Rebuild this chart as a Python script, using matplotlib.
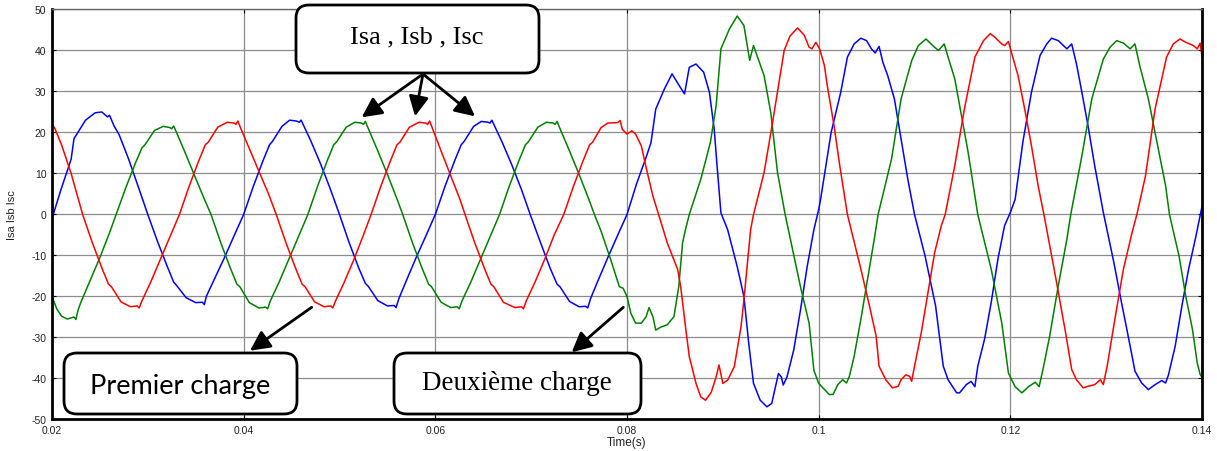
import matplotlib
matplotlib.use('Agg')
import matplotlib.pyplot as plt
from matplotlib.patches import FancyBboxPatch

plt.rcParams['axes.unicode_minus'] = False

# courants de ligne Isa (bleu), Isb (vert), Isc (rouge)
t_isa = [0.0200, 0.0210, 0.0220, 0.0223, 0.0227, 0.0235, 0.0245, 0.0252, 0.0258, 0.0260, 0.0265, 0.0270, 0.0280, 0.0290, 0.0300,
         0.0310, 0.0320, 0.0327, 0.0330, 0.0340, 0.0350, 0.0357, 0.0359, 0.0361, 0.0370, 0.0380, 0.0390, 0.0400,
         0.0410, 0.0420, 0.0427, 0.0430, 0.0440, 0.0448, 0.0455, 0.0458, 0.0460, 0.0463, 0.0470, 0.0480, 0.0490, 0.0500,
         0.0510, 0.0520, 0.0527, 0.0530, 0.0540, 0.0550, 0.0557, 0.0559, 0.0562, 0.0570, 0.0580, 0.0590, 0.0600,
         0.0610, 0.0620, 0.0627, 0.0630, 0.0640, 0.0648, 0.0655, 0.0657, 0.0659, 0.0662, 0.0670, 0.0680, 0.0690, 0.0699,
         0.0710, 0.0720, 0.0727, 0.0730, 0.0740, 0.0750, 0.0757, 0.0759, 0.0762, 0.0770, 0.0780, 0.0790, 0.0800,
         0.0810, 0.0820, 0.0825, 0.0830, 0.0839, 0.0847, 0.0853, 0.0860, 0.0865, 0.0872, 0.0880, 0.0886, 0.0891, 0.0894, 0.0898,
         0.0905, 0.0915, 0.0922, 0.0927, 0.0932, 0.0939, 0.0946, 0.0951, 0.0958, 0.0961, 0.0963, 0.0967, 0.0974, 0.0981, 0.0988, 0.0995, 0.1000,
         0.1002, 0.1013, 0.1023, 0.1030, 0.1037, 0.1044, 0.1050, 0.1055, 0.1059, 0.1063, 0.1067, 0.1072, 0.1079, 0.1086, 0.1093, 0.1100,
         0.1111, 0.1122, 0.1130, 0.1135, 0.1144, 0.1147, 0.1154, 0.1159, 0.1163, 0.1166, 0.1173, 0.1180, 0.1187, 0.1194, 0.1200,
         0.1205, 0.1213, 0.1222, 0.1231, 0.1238, 0.1243, 0.1250, 0.1259, 0.1264, 0.1269, 0.1274, 0.1281, 0.1288, 0.1297,
         0.1308, 0.1316, 0.1325, 0.1330, 0.1337, 0.1344, 0.1351, 0.1358, 0.1362, 0.1365, 0.1372, 0.1379, 0.1386, 0.1393, 0.1400]
isa = [-1.0, 6.5, 13.5, 18.5, 20.0, 23.0, 24.8, 25.0, 23.8, 24.2, 21.5, 19.5, 13.5, 6.8, 0.0,
       -6.5, -12.5, -16.5, -17.3, -20.3, -21.5, -21.4, -22.0, -20.0, -15.5, -10.5, -5.2, 0.0,
       6.8, 13.0, 17.0, 17.8, 21.5, 23.0, 22.8, 22.5, 23.0, 21.5, 18.0, 12.5, 6.5, 0.0,
       -6.8, -13.0, -16.8, -17.5, -21.0, -22.3, -22.2, -22.7, -20.5, -16.0, -10.5, -5.3, 0.0,
       6.8, 13.0, 17.0, 17.8, 21.5, 22.7, 22.5, 22.3, 23.0, 21.5, 17.5, 12.0, 6.0, 0.0,
       -7.0, -13.2, -17.0, -17.6, -21.2, -22.5, -22.4, -22.8, -20.5, -16.0, -10.5, -5.2, 0.0,
       7.5, 14.0, 17.5, 25.7, 30.6, 34.3, 32.0, 29.4, 35.9, 36.7, 34.7, 29.8, 20.8, 11.8, 0.4,
       -3.7, -12.7, -20.0, -31.4, -41.2, -45.3, -46.9, -46.1, -38.8, -39.6, -41.6, -39.6, -33.0, -23.3, -12.7, -3.7, 1.2,
       3.7, 20.0, 29.8, 38.4, 41.6, 43.0, 42.4, 40.4, 39.4, 41.0, 37.1, 33.9, 28.2, 18.4, 8.6, 0.0,
       -10.1, -22.3, -37.0, -40.3, -43.5, -43.5, -41.5, -40.7, -42.0, -37.0, -30.5, -21.5, -10.9, -2.7, 0.5,
       3.7, 17.6, 29.8, 38.8, 41.6, 43.0, 42.4, 40.4, 41.6, 36.7, 30.6, 21.7, 11.9, 0.5,
       -11.7, -21.5, -32.1, -38.2, -41.1, -42.7, -41.5, -40.5, -41.1, -39.1, -32.1, -22.3, -13.3, -6.0, 2.0]

t_isb = [0.0200, 0.0205, 0.0210, 0.0216, 0.0223, 0.0225, 0.0227, 0.0230, 0.0240, 0.0250, 0.0260, 0.0267,
         0.0277, 0.0287, 0.0294, 0.0297, 0.0307, 0.0316, 0.0323, 0.0325, 0.0327, 0.0330, 0.0340, 0.0350, 0.0360, 0.0366,
         0.0376, 0.0386, 0.0393, 0.0396, 0.0406, 0.0416, 0.0423, 0.0425, 0.0428, 0.0437, 0.0447, 0.0457, 0.0467,
         0.0477, 0.0487, 0.0494, 0.0497, 0.0507, 0.0516, 0.0523, 0.0525, 0.0527, 0.0530, 0.0540, 0.0550, 0.0560, 0.0566,
         0.0576, 0.0586, 0.0593, 0.0596, 0.0606, 0.0616, 0.0623, 0.0625, 0.0628, 0.0637, 0.0647, 0.0657, 0.0667,
         0.0677, 0.0687, 0.0694, 0.0697, 0.0707, 0.0716, 0.0723, 0.0725, 0.0727, 0.0730, 0.0740, 0.0750, 0.0760, 0.0766,
         0.0773, 0.0783, 0.0792, 0.0796, 0.0800, 0.0804, 0.0809, 0.0815, 0.0820, 0.0823, 0.0827, 0.0830, 0.0835, 0.0842, 0.0849, 0.0854, 0.0858, 0.0861, 0.0865,
         0.0877, 0.0887, 0.0893, 0.0898, 0.0907, 0.0915, 0.0922, 0.0928, 0.0932, 0.0943, 0.0950, 0.0957, 0.0965,
         0.0981, 0.0990, 0.0995, 0.1000, 0.1011, 0.1015, 0.1020, 0.1025, 0.1029, 0.1032, 0.1037, 0.1044, 0.1051, 0.1058, 0.1062,
         0.1076, 0.1086, 0.1097, 0.1104, 0.1112, 0.1119, 0.1125, 0.1131, 0.1135, 0.1142, 0.1149, 0.1156, 0.1163, 0.1166,
         0.1180, 0.1191, 0.1198, 0.1205, 0.1212, 0.1219, 0.1226, 0.1230, 0.1234, 0.1241, 0.1250, 0.1259, 0.1263,
         0.1274, 0.1285, 0.1297, 0.1304, 0.1311, 0.1318, 0.1325, 0.1330, 0.1335, 0.1344, 0.1353, 0.1362, 0.1366,
         0.1376, 0.1383, 0.1390, 0.1395, 0.1398, 0.1400]
isb = [-20.0, -23.0, -24.8, -25.5, -25.0, -25.6, -23.5, -21.5, -16.0, -10.5, -4.5, 0.0,
       6.5, 12.5, 16.3, 17.0, 20.5, 21.5, 21.2, 20.9, 21.6, 20.0, 14.5, 8.8, 3.2, 0.0,
       -6.8, -13.0, -17.0, -17.6, -21.5, -22.8, -22.6, -23.0, -21.0, -16.5, -11.0, -5.5, 0.0,
       6.8, 13.0, 17.0, 17.7, 21.3, 22.5, 22.3, 22.0, 22.7, 21.0, 15.5, 9.8, 3.8, 0.0,
       -6.8, -13.0, -17.0, -17.6, -21.4, -22.7, -22.5, -23.0, -21.0, -16.5, -11.0, -5.5, 0.0,
       6.8, 13.0, 17.0, 17.7, 21.3, 22.5, 22.3, 22.0, 22.7, 21.0, 15.5, 9.8, 3.8, 0.0,
       -4.1, -11.0, -17.6, -18.0, -20.0, -24.1, -26.5, -26.5, -24.9, -22.7, -24.9, -28.2, -27.5, -26.9, -24.9, -17.6, -6.9, -3.7, 0.0,
       8.6, 17.6, 26.5, 40.4, 45.3, 48.4, 46.1, 37.6, 41.2, 33.9, 24.9, 10.3, 0.0,
       -17.6, -26.5, -38.0, -41.2, -43.9, -43.9, -41.5, -40.3, -41.1, -39.5, -34.6, -25.6, -15.8, -6.0, 0.0,
       13.5, 28.2, 37.5, 41.2, 42.8, 41.2, 40.0, 41.6, 38.4, 33.1, 24.1, 15.1, 4.6, 0.0,
       -13.3, -26.4, -38.7, -42.0, -43.5, -42.0, -40.9, -42.0, -37.8, -29.7, -17.4, -6.0, 0.0,
       13.5, 28.2, 37.9, 40.8, 42.4, 41.8, 40.4, 41.6, 36.3, 28.2, 17.6, 7.0, 0.0,
       -10.1, -19.9, -28.0, -36.2, -39.0, -39.7]

t_isc = [0.0200, 0.0203, 0.0210, 0.0220, 0.0232,
         0.0242, 0.0252, 0.0259, 0.0262, 0.0272, 0.0282, 0.0289, 0.0291, 0.0294, 0.0303, 0.0313, 0.0323, 0.0333,
         0.0343, 0.0353, 0.0360, 0.0363, 0.0373, 0.0383, 0.0390, 0.0392, 0.0394, 0.0397, 0.0406, 0.0416, 0.0426, 0.0434,
         0.0444, 0.0454, 0.0461, 0.0464, 0.0474, 0.0484, 0.0491, 0.0493, 0.0496, 0.0505, 0.0515, 0.0525, 0.0533,
         0.0543, 0.0553, 0.0560, 0.0563, 0.0573, 0.0583, 0.0590, 0.0592, 0.0594, 0.0597, 0.0606, 0.0616, 0.0626, 0.0631,
         0.0641, 0.0651, 0.0658, 0.0661, 0.0671, 0.0683, 0.0690, 0.0692, 0.0695, 0.0704, 0.0714, 0.0724, 0.0734,
         0.0744, 0.0754, 0.0761, 0.0764, 0.0773, 0.0780, 0.0790, 0.0793, 0.0795, 0.0800, 0.0805, 0.0809, 0.0815, 0.0820, 0.0827, 0.0833,
         0.0842, 0.0853, 0.0856, 0.0861, 0.0865, 0.0872, 0.0877, 0.0882, 0.0888, 0.0893, 0.0896, 0.0900, 0.0905, 0.0912, 0.0919, 0.0922, 0.0926, 0.0929, 0.0932,
         0.0943, 0.0951, 0.0958, 0.0964, 0.0970, 0.0978, 0.0985, 0.0990, 0.0993, 0.0997, 0.1001, 0.1006, 0.1009, 0.1016, 0.1022, 0.1030,
         0.1044, 0.1053, 0.1060, 0.1063, 0.1070, 0.1077, 0.1083, 0.1086, 0.1091, 0.1095, 0.1097, 0.1100, 0.1107, 0.1114, 0.1121, 0.1128, 0.1132,
         0.1142, 0.1152, 0.1163, 0.1172, 0.1179, 0.1184, 0.1191, 0.1194, 0.1198, 0.1201, 0.1208, 0.1215, 0.1222, 0.1229, 0.1235,
         0.1247, 0.1257, 0.1264, 0.1269, 0.1276, 0.1281, 0.1288, 0.1294, 0.1297, 0.1301, 0.1309, 0.1318, 0.1327, 0.1332,
         0.1341, 0.1351, 0.1363, 0.1370, 0.1377, 0.1383, 0.1391, 0.1395, 0.1398, 0.1400]
isc = [22.0, 21.0, 17.0, 10.0, 0.0,
       -6.8, -13.0, -17.0, -17.6, -21.3, -22.5, -22.3, -22.8, -21.0, -16.5, -11.0, -5.5, 0.0,
       6.8, 13.0, 17.0, 17.6, 21.3, 22.5, 22.3, 22.0, 22.8, 21.0, 16.0, 10.5, 5.0, 0.0,
       -6.8, -13.0, -17.0, -17.6, -21.3, -22.5, -22.3, -22.8, -21.0, -16.5, -11.0, -5.0, 0.0,
       6.8, 13.0, 17.0, 17.6, 21.3, 22.5, 22.3, 22.0, 22.8, 21.0, 15.5, 9.5, 3.5, 0.0,
       -6.8, -13.0, -17.0, -17.6, -21.4, -22.7, -22.5, -23.0, -21.0, -16.5, -11.0, -5.0, 0.0,
       6.8, 13.0, 17.0, 17.6, 21.2, 22.3, 22.4, 22.9, 20.8, 19.6, 20.4, 19.6, 16.7, 11.4, 4.5, 0.0,
       -6.9, -13.5, -17.6, -27.3, -34.7, -41.2, -44.5, -45.3, -43.3, -39.6, -36.7, -41.2, -40.4, -37.1, -27.3, -20.8, -11.0, -3.7, 0.0,
       10.2, 21.2, 31.4, 40.0, 43.5, 45.5, 43.7, 40.8, 40.4, 42.0, 40.4, 36.3, 31.4, 21.7, 11.9, 0.0,
       -13.3, -22.3, -29.7, -37.0, -40.3, -42.3, -41.9, -40.3, -39.1, -39.5, -40.7, -37.0, -28.9, -19.1, -9.3, -2.7, 0.0,
       11.9, 25.7, 38.4, 42.4, 44.1, 43.2, 41.6, 41.2, 42.2, 39.6, 33.9, 25.7, 16.8, 7.0, 0.0,
       -15.0, -28.0, -37.8, -40.3, -42.3, -41.9, -41.5, -40.3, -41.5, -37.0, -25.6, -13.3, -4.4, 0.0,
       9.4, 25.7, 38.4, 41.6, 42.8, 42.0, 41.2, 40.4, 41.8, 38.5]

xticks = [0.02, 0.04, 0.06, 0.08, 0.1, 0.12, 0.14]
xtick_labels = ['0.02', '0.04', '0.06', '0.08', '0.1', '0.12', '0.14']
yticks = [-50, -40, -30, -20, -10, 0, 10, 20, 30, 40, 50]

fig = plt.figure(figsize=(12.17, 4.52), dpi=100)
fig.patch.set_facecolor('white')
ax = fig.add_axes([0.0427, 0.0697, 0.9450, 0.9071])

ax.plot(t_isa, isa, color='#0000ff', lw=1.1)
ax.plot(t_isb, isb, color='#008000', lw=1.1)
ax.plot(t_isc, isc, color='#ff0000', lw=1.1)

ax.set_xlim(0.02, 0.14)
ax.set_ylim(-50, 50)
ax.set_xticks(xticks)
ax.set_xticklabels(xtick_labels)
ax.set_yticks(yticks)
ax.grid(True, color='#8c8c8c', lw=0.9, ls='-')
ax.tick_params(direction='in', length=3, top=True, right=True, labelsize=7.5, labelcolor='#222222', pad=4)
for lab in ax.get_xticklabels() + ax.get_yticklabels():
    lab.set_fontfamily('Liberation Sans')
for s in ['left', 'bottom', 'right']:
    ax.spines[s].set_linewidth(2)
    ax.spines[s].set_color('black')
ax.spines['top'].set_linewidth(1)
ax.spines['top'].set_color('#666666')

ax.set_xlabel('Time(s)', fontsize=8.5, family='Liberation Sans', color='#222222')
ax.set_ylabel('Isa Isb Isc', fontsize=8, family='Liberation Sans', color='#222222')
ax.xaxis.set_label_coords(0.5, -0.040)
ax.yaxis.set_label_coords(-0.030, 0.5)

# boites et fleches (en pouces, origine en bas a gauche)
tr = fig.dpi_scale_trans
boxes = [(2.96, 3.78, 2.43, 0.68), (0.64, 0.37, 2.33, 0.61), (3.94, 0.37, 2.47, 0.61)]
for x0, y0, w, h in boxes:
    ax.add_patch(FancyBboxPatch((x0, y0), w, h, boxstyle='round,pad=0,rounding_size=0.13',
                                transform=tr, fc='white', ec='black', lw=2, zorder=5, clip_on=False))

ax.text(4.17, 4.15, 'Isa , Isb , Isc', transform=tr, ha='center', va='center',
        fontsize=19, family='Liberation Serif', zorder=6)
ax.text(1.80, 0.655, 'Premier charge', transform=tr, ha='center', va='center',
        fontsize=19.5, family='Lato', zorder=6)
ax.text(5.17, 0.685, 'Deuxième charge', transform=tr, ha='center', va='center',
        fontsize=19.5, family='Liberation Serif', zorder=6)

arrows = [((4.23, 3.77), (3.617, 3.337)), ((4.23, 3.77), (4.15, 3.347)), ((4.23, 3.77), (4.75, 3.347)),
          ((3.117, 1.437), (2.50, 1.003)), ((6.233, 1.437), (5.717, 0.987))]
for start, tip in arrows:
    ax.annotate('', xy=tip, xytext=start, xycoords=tr, textcoords=tr,
                arrowprops=dict(arrowstyle='-|>,head_length=0.6,head_width=0.3', mutation_scale=20,
                                lw=2, color='black', shrinkA=0, shrinkB=0),
                annotation_clip=False, zorder=7)

fig.savefig('out.png', dpi=100)
